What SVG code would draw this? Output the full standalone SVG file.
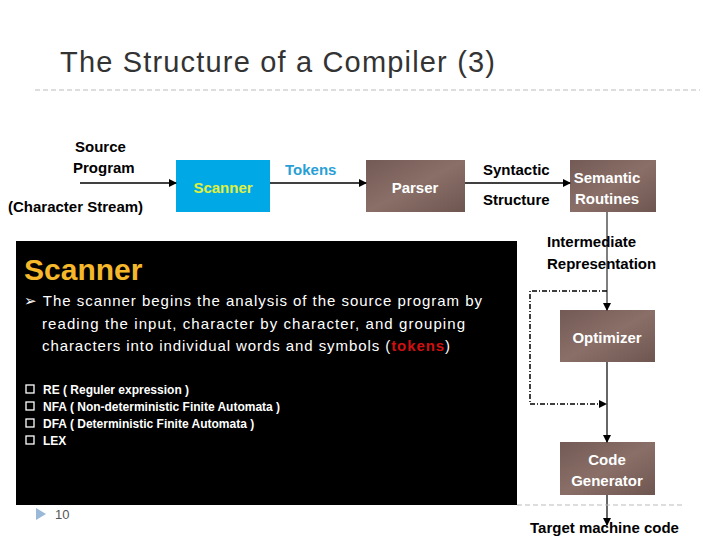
<svg xmlns="http://www.w3.org/2000/svg" width="720" height="540" viewBox="0 0 720 540">
<defs>
<marker id="ar" markerWidth="8" markerHeight="8" refX="7" refY="4" orient="auto" markerUnits="userSpaceOnUse"><path d="M0,0 L8,4 L0,8 z" fill="#000"/></marker>
<linearGradient id="br" x1="0" y1="0" x2="1" y2="1"><stop offset="0" stop-color="#735a54"/><stop offset="0.5" stop-color="#8a6f68"/><stop offset="1" stop-color="#6e5650"/></linearGradient>
</defs>
<style>
text{font-family:"Liberation Sans",Arial,sans-serif}
.b{font-weight:bold;font-size:15px}
.w{fill:#fff;font-weight:bold;font-size:15px}
.box{fill:url(#br)}
.ln{stroke:#000;stroke-width:1.5;fill:none}
.bul{fill:#fff;font-weight:bold;font-size:12px}
</style>
<rect width="720" height="540" fill="#fff"/>
<text x="60" y="72" font-size="29" fill="#333" textLength="435">The Structure of a Compiler (3)</text>
<line x1="35" y1="90" x2="700" y2="90" stroke="#bbb" stroke-dasharray="5,3"/>
<g id="src"><text x="75" y="152" class="b">Source</text><text x="73" y="173" class="b">Program</text><text x="8" y="212" class="b">(Character Stream)</text></g>
<g id="scanner"><rect x="176" y="160" width="94" height="52" fill="#00a9e6"/><text x="223" y="193" text-anchor="middle" font-size="15" font-weight="bold" fill="#e0f040">Scanner</text></g>
<g id="parser"><rect x="366" y="160" width="99" height="52" class="box"/><text x="415" y="193" text-anchor="middle" class="w">Parser</text></g>
<g id="semantic"><rect x="570" y="160" width="86" height="52" class="box"/><text x="607" y="183" text-anchor="middle" class="w">Semantic</text><text x="607" y="204" text-anchor="middle" class="w">Routines</text></g>
<g id="optimizer"><rect x="560" y="310" width="95" height="52" class="box"/><text x="607" y="343" text-anchor="middle" class="w">Optimizer</text></g>
<g id="codegen"><rect x="560" y="442" width="95" height="53" class="box"/><text x="607" y="465" text-anchor="middle" class="w">Code</text><text x="607" y="486" text-anchor="middle" class="w">Generator</text></g>
<g id="labels">
<text x="285" y="175" font-size="15" font-weight="bold" fill="#2a9fd6">Tokens</text>
<text x="483" y="175" class="b">Syntactic</text><text x="483" y="205" class="b">Structure</text>
<text x="547" y="247" class="b">Intermediate</text><text x="547" y="269" class="b">Representation</text>
<text x="530" y="533" class="b">Target machine code</text>
</g>
<g id="connectors">
<line x1="80" y1="183" x2="176" y2="183" class="ln" marker-end="url(#ar)"/>
<line x1="270" y1="183" x2="366" y2="183" class="ln" marker-end="url(#ar)"/>
<line x1="465" y1="183" x2="570" y2="183" class="ln" marker-end="url(#ar)"/>
<line x1="607" y1="212" x2="607" y2="310" stroke="#000" stroke-width="1" marker-end="url(#ar)"/>
<line x1="607" y1="362" x2="607" y2="442" stroke="#000" stroke-width="1.2" marker-end="url(#ar)"/>
<line x1="607" y1="495" x2="607" y2="525" stroke="#000" stroke-width="1.2" marker-end="url(#ar)"/>
<path d="M607,291 L530,291 L530,404 L606,404" class="ln" stroke-width="1.2" stroke-dasharray="5,2,1,2" marker-end="url(#ar)"/>
</g>
<g id="panel">
<rect x="16" y="241" width="501" height="264" fill="#000"/>
<text x="24" y="280" font-size="30" font-weight="bold" fill="#f5b82a">Scanner</text>
<text x="24" y="306" font-size="15" fill="#fff" textLength="458">➢ The scanner begins the analysis of  the source program by</text>
<text x="42" y="329" font-size="15" fill="#fff" textLength="423">reading the input,  character by character,  and grouping</text>
<text x="42" y="351" font-size="15" fill="#fff" textLength="408">characters into individual words and symbols (<tspan fill="#d01010" font-weight="bold">tokens</tspan>)</text>
<g fill="none" stroke="#fff" stroke-width="1.3"><rect x="26" y="385" width="8" height="8"/><rect x="26" y="402" width="8" height="8"/><rect x="26" y="419" width="8" height="8"/><rect x="26" y="436" width="8" height="8"/></g>
<text x="43" y="394" class="bul">RE ( Reguler expression )</text>
<text x="43" y="411" class="bul">NFA ( Non-deterministic Finite Automata )</text>
<text x="43" y="428" class="bul">DFA ( Deterministic Finite Automata )</text>
<text x="43" y="445" class="bul">LEX</text>
</g>
<line x1="517" y1="505" x2="685" y2="505" stroke="#bbb" stroke-dasharray="5,3"/>
<path d="M36,508 L46,514 L36,520 z" fill="#9ab8d8"/>
<text x="55" y="519" font-size="13" fill="#555">10</text>
</svg>
